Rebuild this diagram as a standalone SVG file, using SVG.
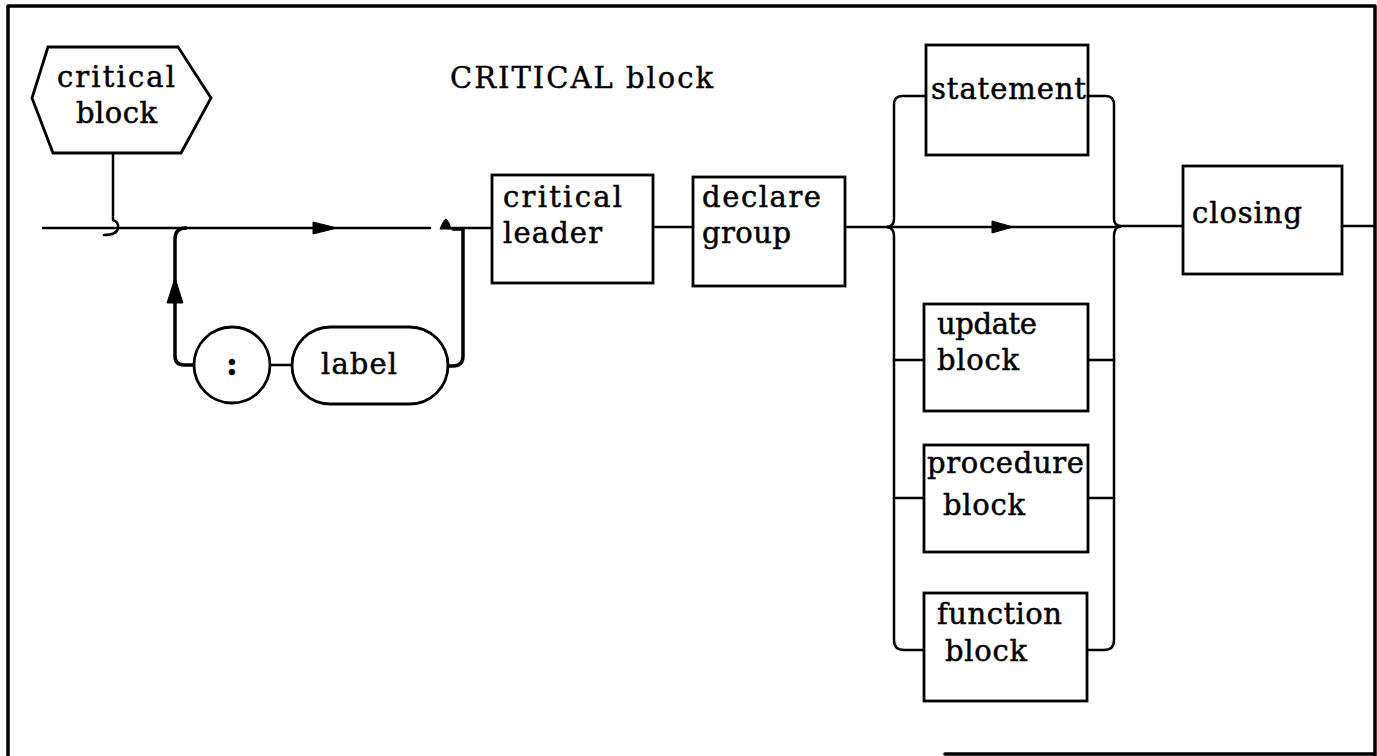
<svg xmlns="http://www.w3.org/2000/svg" width="1377" height="756" viewBox="0 0 1377 756">
<style>
.box{fill:#fff;stroke:#000;stroke-width:2.8}
.ln{fill:none;stroke:#000;stroke-width:2.5;stroke-linecap:round;stroke-linejoin:round}
.bold{fill:none;stroke:#000;stroke-width:3.5;stroke-linecap:round;stroke-linejoin:round}
.ah{fill:#000;stroke:#000;stroke-width:1}
.t{font-family:"DejaVu Serif","Liberation Serif",serif;font-size:29px;fill:#000;stroke:#000;stroke-width:0.5}
.title{font-family:"DejaVu Serif","Liberation Serif",serif;font-size:29px;fill:#000;stroke:#000;stroke-width:0.4}
</style>
<rect x="0" y="0" width="1377" height="756" fill="#fff"/>
<g id="frame">
<path class="bold" d="M8,6 H1375 V755 M8,6 V756 M945,754 H1375"/>
</g>
<text class="title" x="450" y="88" textLength="263" lengthAdjust="spacing">CRITICAL block</text>
<g id="connectors">
<path class="ln" d="M113,153 V220 Q119,222 118,228 Q117,235 104,235"/>
<path class="ln" d="M43,228 H430"/>
<polygon class="ah" points="313,222 337,228 313,234"/>
<path class="ah" d="M440,229 Q444,219 446,219 Q449,221 451,229 Z"/>
<path class="ln" d="M448,228 H492"/>
<path class="bold" d="M453,229 H463 V356 Q463,366 453,366 H448"/>
<path class="bold" d="M186,228 Q175,228 175,239 V356 Q175,365 184,365 H195"/>
<polygon class="ah" points="175,278 183,303 167,303"/>
<path class="ln" d="M270,365 H292"/>
<path class="ln" d="M653,227 H693"/>
<path class="ln" d="M845,227 H888"/>
<path class="ln" d="M926,96 H902 Q894,96 894,105 V219 Q894,226 887,227 Q894,228 894,236 V640 Q894,650 904,650 H924"/>
<path class="ln" d="M894,360 H924 M894,498 H924"/>
<path class="ln" d="M888,227 H1120"/>
<polygon class="ah" points="992,221 1013,227 992,233"/>
<path class="ln" d="M1088,96 H1106 Q1114,96 1114,105 V219 Q1114,225 1120,226 Q1114,228 1114,236 V640 Q1114,650 1104,650 H1087"/>
<path class="ln" d="M1088,360 H1114 M1088,498 H1114"/>
<path class="ln" d="M1120,226 H1183"/>
<path class="ln" d="M1342,226 H1373"/>
</g>
<g id="n-critical-block">
<polygon class="box" points="48,47 178,47 211,98 181,153 53,153 32,98"/>
<text class="t" x="57" y="87" textLength="118" lengthAdjust="spacing">critical</text>
<text class="t" x="76" y="123" textLength="81" lengthAdjust="spacing">block</text>
</g>
<g id="n-colon">
<circle class="box" cx="232" cy="365" r="38"/>
<text class="t" x="232" y="375" text-anchor="middle" style="font-size:32px;font-weight:bold">:</text>
</g>
<g id="n-label">
<rect class="box" x="292" y="327" width="156" height="77" rx="38.5" ry="38.5"/>
<text class="t" x="321" y="374" textLength="76" lengthAdjust="spacing">label</text>
</g>
<g id="n-critical-leader">
<rect class="box" x="492" y="175" width="161" height="108"/>
<text class="t" x="503" y="207" textLength="119" lengthAdjust="spacing">critical</text>
<text class="t" x="503" y="243" textLength="99" lengthAdjust="spacing">leader</text>
</g>
<g id="n-declare-group">
<rect class="box" x="693" y="177" width="152" height="109"/>
<text class="t" x="702" y="207" textLength="119" lengthAdjust="spacing">declare</text>
<text class="t" x="702" y="243" textLength="89" lengthAdjust="spacing">group</text>
</g>
<g id="n-statement">
<rect class="box" x="926" y="45" width="162" height="110"/>
<text class="t" x="931" y="99" textLength="155" lengthAdjust="spacing">statement</text>
</g>
<g id="n-update-block">
<rect class="box" x="924" y="304" width="164" height="107"/>
<text class="t" x="937" y="334" textLength="100" lengthAdjust="spacing">update</text>
<text class="t" x="937" y="370" textLength="82" lengthAdjust="spacing">block</text>
</g>
<g id="n-procedure-block">
<rect class="box" x="924" y="445" width="164" height="107"/>
<text class="t" x="927" y="473" textLength="157" lengthAdjust="spacing">procedure</text>
<text class="t" x="943" y="515" textLength="82" lengthAdjust="spacing">block</text>
</g>
<g id="n-function-block">
<rect class="box" x="924" y="593" width="163" height="108"/>
<text class="t" x="937" y="624" textLength="125" lengthAdjust="spacing">function</text>
<text class="t" x="945" y="661" textLength="82" lengthAdjust="spacing">block</text>
</g>
<g id="n-closing">
<rect class="box" x="1183" y="166" width="159" height="108"/>
<text class="t" x="1192" y="223" textLength="110" lengthAdjust="spacing">closing</text>
</g>
</svg>
